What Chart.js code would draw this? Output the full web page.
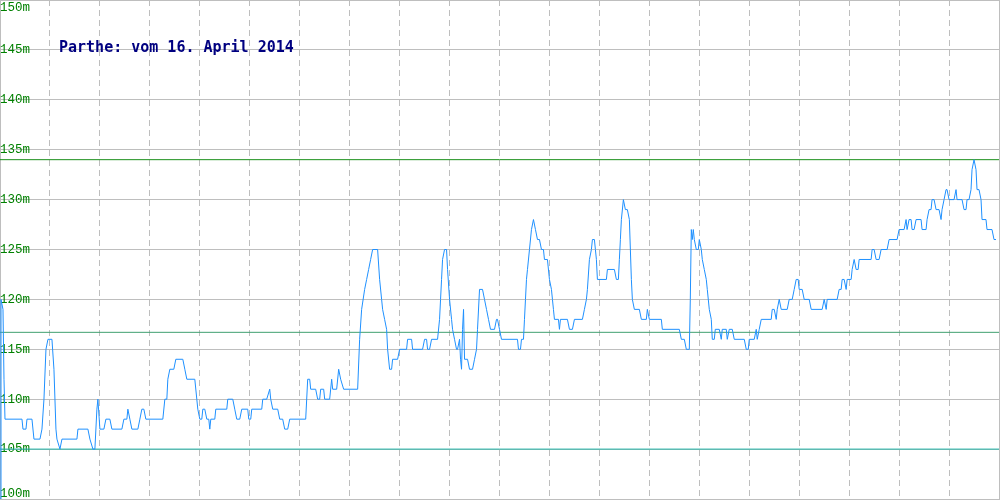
<!DOCTYPE html>
<html>
<head>
<meta charset="utf-8">
<script src="https://cdn.jsdelivr.net/npm/chart.js@4"></script>
<style>
  body { margin: 0; background: #fff; }
  #wrap { position: relative; width: 1000px; height: 500px; }
  #title {
    position: absolute; left: 59px; top: 40px;
    font: bold 15px "DejaVu Sans Mono", monospace; line-height: 15px;
    color: #000080; white-space: pre;
  }
</style>
</head>
<body>
<div id="wrap">
  <canvas id="chart" width="1000" height="500"></canvas>
  <div id="title">Parthe: vom 16. April 2014</div>
</div>
<script>
// water level readings (sample number -> metres)
const sample = [
  0, 1, 3, 4, 5, 22, 23, 26, 27, 32, 34, 40, 42, 44, 46, 48, 52, 54, 56, 57, 60, 62, 77, 78, 88, 90, 93, 95, 97, 98,
  100, 104, 106, 110, 112, 122, 124, 127, 128, 130, 132, 138, 140, 142, 144, 146, 163, 165, 167, 168, 170, 174, 176, 183, 185, 187, 195, 197, 198,
  200, 202, 203, 205, 207, 209, 210, 211, 215, 216, 227, 228, 233, 235, 237, 240, 242, 248, 249, 251, 252, 262, 263, 267, 270, 271, 273, 278, 280, 283, 285, 288, 290,
  306, 308, 310, 311, 316, 318, 320, 321, 324, 325, 330, 332, 333, 337, 339, 341, 344, 358, 360, 362, 365, 367, 369, 371, 373, 378, 380, 382, 383, 385, 387, 388, 390, 392, 393, 398,
  400, 407, 408, 412, 413, 423, 425, 427, 428, 430, 432, 438, 440, 441, 442, 443, 445, 447, 448, 450, 452, 453, 455, 457, 458, 460, 461, 462, 463, 464, 465, 468, 470, 473, 475, 477, 478, 480, 483, 485, 487, 489, 491, 495, 497, 498,
  500, 502, 518, 519, 521, 522, 524, 525, 526, 527, 528, 530, 532, 534, 536, 538, 540, 542, 544, 545, 548, 550, 552, 553, 554, 555, 559, 560, 561, 568, 570, 573, 575, 583, 585, 587, 588, 590, 592, 593, 595, 596, 597, 598,
  607, 608, 615, 617, 619, 620, 621, 622, 624, 626, 628, 630, 632, 633, 635, 640, 642, 647, 648, 650, 662, 663, 680, 682, 685, 687, 690, 691, 692, 693, 694, 695, 697, 699,
  700, 702, 703, 705, 707, 708, 710, 712, 713, 715, 716, 720, 722, 723, 727, 728, 730, 733, 735, 745, 747, 749, 750, 755, 757, 758, 760, 762, 772, 773, 775, 777, 778, 780, 782, 788, 790, 793, 795, 797, 799,
  800, 803, 805, 810, 812, 823, 825, 827, 828, 838, 840, 842, 843, 845, 847, 848, 852, 853, 855, 857, 859, 860, 872, 873, 875, 877, 880, 882, 888, 890, 898,
  900, 905, 907, 908, 910, 912, 913, 915, 917, 922, 923, 927, 928, 930, 932, 933, 935, 937, 940, 942, 943, 945, 947, 948, 950, 955, 957, 958, 963, 965, 967, 968, 970, 972, 973, 975, 977, 978, 980, 982, 983, 985, 987, 988, 993, 995, 997
];
const level = [
  100, 120, 119, 112, 108, 108, 107, 107, 108, 108, 106, 106, 107, 110, 115, 116, 116, 113, 107, 106, 105, 106, 106, 107, 107, 106, 105, 105, 109, 110,
  107, 107, 108, 108, 107, 107, 108, 108, 109, 108, 107, 107, 108, 109, 109, 108, 108, 110, 110, 112, 113, 113, 114, 114, 113, 112, 112, 110, 109,
  108, 108, 109, 109, 108, 108, 107, 108, 108, 109, 109, 110, 110, 109, 108, 108, 109, 109, 108, 108, 109, 109, 110, 110, 111, 110, 109, 109, 108, 108, 107, 107, 108,
  108, 112, 112, 111, 111, 110, 110, 111, 111, 110, 110, 112, 111, 111, 113, 112, 111, 111, 116, 119, 121, 122, 123, 124, 125, 125, 122, 120, 119, 118, 117, 115, 113, 113, 114, 114,
  115, 115, 116, 116, 115, 115, 116, 116, 115, 115, 116, 116, 118, 120, 122, 124, 125, 125, 123, 120, 118, 117, 116, 115, 115, 116, 114, 113, 117, 119, 114, 114, 113, 113, 114, 115, 117, 121, 121, 120, 119, 118, 117, 117, 118, 118,
  117, 116, 116, 115, 115, 116, 116, 118, 120, 122, 123, 125, 127, 128, 127, 126, 126, 125, 125, 124, 124, 122, 121, 120, 119, 118, 118, 117, 118, 118, 117, 117, 118, 118, 119, 120, 121, 124, 125, 126, 126, 125, 124, 122,
  122, 123, 123, 122, 122, 124, 126, 128, 130, 129, 129, 128, 122, 120, 119, 119, 118, 118, 119, 118, 118, 117, 117, 116, 116, 115, 115, 120, 127, 126, 127, 126, 125, 125,
  126, 125, 124, 123, 122, 121, 119, 118, 116, 116, 117, 117, 116, 117, 117, 116, 117, 117, 116, 116, 115, 115, 116, 116, 117, 116, 117, 118, 118, 119, 119, 118, 119, 120, 119, 119, 120, 120, 121, 122, 122,
  121, 121, 120, 120, 119, 119, 120, 119, 120, 120, 121, 121, 122, 122, 121, 122, 122, 123, 124, 123, 123, 124, 124, 125, 125, 124, 124, 125, 125, 126, 126,
  127, 127, 128, 127, 128, 128, 127, 127, 128, 128, 127, 127, 128, 129, 129, 130, 130, 129, 129, 128, 129, 130, 131, 131, 130, 130, 131, 130, 130, 129, 129, 130, 130, 131, 133, 134, 133, 131, 131, 130, 128, 128, 128, 127, 127, 126, 126
];

// reference levels drawn as horizontal lines
const markLevel = [134, 116.7, 105];
const markColor = ['#1a8f1a', '#40a070', '#1fb5a8'];

const yMin = 100;
const yMax = 150;
const xMax = 1000;

const gridGray = '#bebebe';
const labelFont = { family: 'Liberation Mono', size: 12.5 };

const series = sample.map((s, i) => ({ x: s, y: level[i] }));

const datasets = [{
  data: series,
  borderColor: '#1e90ff',
  borderWidth: 1,
  pointRadius: 0,
  tension: 0,
  fill: false
}];
markLevel.forEach((v, i) => {
  datasets.push({
    data: [{ x: 0, y: v }, { x: xMax, y: v }],
    borderColor: markColor[i],
    borderWidth: 1,
    pointRadius: 0,
    fill: false
  });
});

// labels are drawn inside the frame, so the axes must not push the plot area in
function noPadding(axis) {
  axis.paddingTop = 0;
  axis.paddingBottom = 0;
  axis.paddingLeft = 0;
  axis.paddingRight = 0;
}

// extra label-only axes so the top and bottom labels sit inside the frame
function edgeAxis(value, align, offset) {
  return {
    type: 'linear', position: 'left', min: yMin, max: yMax,
    afterBuildTicks: axis => { axis.ticks = [{ value: value }]; },
    afterFit: noPadding,
    ticks: {
      mirror: true, padding: 0, align: align, labelOffset: offset,
      color: '#008000', font: labelFont,
      callback: v => v + 'm'
    },
    grid: { display: false, drawTicks: false },
    border: { display: false }
  };
}

new Chart(document.getElementById('chart'), {
  type: 'line',
  data: { datasets: datasets },
  options: {
    responsive: false,
    animation: false,
    layout: { autoPadding: false, padding: { left: 0, top: 0, right: 1, bottom: 1 } },
    plugins: { legend: { display: false }, tooltip: { enabled: false } },
    scales: {
      x: {
        type: 'linear', min: 0, max: xMax,
        afterFit: noPadding,
        ticks: { display: false, stepSize: 50, maxTicksLimit: 30 },
        grid: { color: gridGray, drawTicks: false },
        border: {
          color: gridGray,
          dash: c => (c.tick && c.tick.value > 0 && c.tick.value < xMax) ? [6, 4] : []
        }
      },
      y: {
        type: 'linear', position: 'left', min: yMin, max: yMax,
        afterFit: noPadding,
        ticks: {
          stepSize: 5, maxTicksLimit: 20, mirror: true, padding: 0,
          color: '#008000', font: labelFont,
          callback: v => (v === yMin || v === yMax) ? '' : v + 'm'
        },
        grid: { color: gridGray, drawTicks: false },
        border: { color: gridGray }
      },
      yTop: edgeAxis(yMax, 'start', 1),
      yBottom: edgeAxis(yMin, 'end', 1)
    }
  }
});
</script>
</body>
</html>
